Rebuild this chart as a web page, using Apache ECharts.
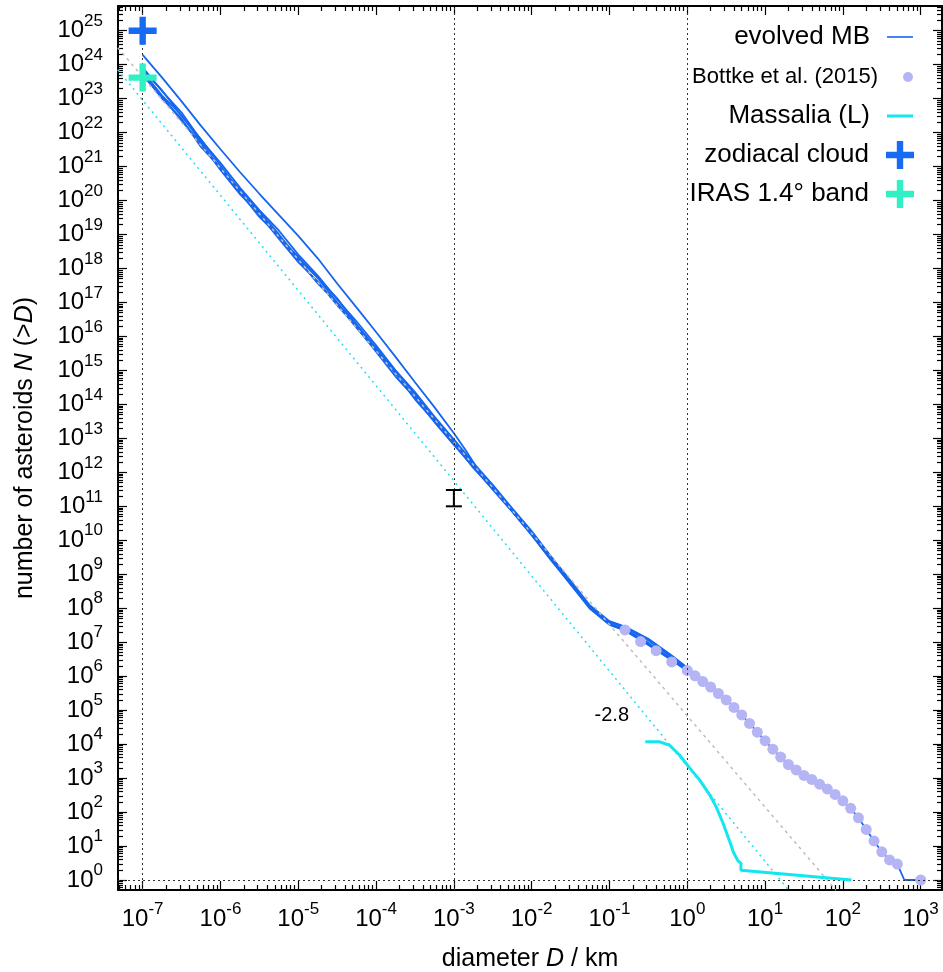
<!DOCTYPE html>
<html>
<head>
<meta charset="utf-8">
<title>Asteroid size-frequency distribution</title>
<script src="https://cdn.jsdelivr.net/npm/echarts@6.0.0/dist/echarts.min.js"></script>
<style>
  html, body { margin: 0; padding: 0; background: #fff; }
  #chart { width: 943px; height: 972px; }
</style>
</head>
<body>
<div id="chart"></div>
<script>
// every value is log10: x = log10(D / km), y = log10 N(>D)
const xTicks = [-7, -6, -5, -4, -3, -2, -1, 0, 1, 2, 3];
const yTicks = [0, 1, 2, 3, 4, 5, 6, 7, 8, 9, 10, 11, 12, 13, 14, 15, 16, 17, 18, 19, 20, 21, 22, 23, 24, 25];

// evolved main belt, several runs (bundle)
const bundleD = [-7.0, -6.75, -6.5, -6.25, -6.0, -5.75, -5.5, -5.25, -5.0, -4.75, -4.5, -4.25, -4.0, -3.75, -3.5, -3.25, -3.0, -2.75, -2.5, -2.25, -2.0, -1.75, -1.5, -1.25, -1.0, -0.8, -0.5, -0.2, 0.1, 0.4];
const mbA = [23.92, 23.22, 22.59, 21.78, 21.11, 20.38, 19.72, 19.12, 18.41, 17.79, 17.09, 16.44, 15.74, 15.00, 14.36, 13.64, 12.97, 12.28, 11.63, 10.94, 10.27, 9.52, 8.81, 8.08, 7.62, 7.46, 7.10, 6.61, 6.07, 5.54];
const mbB = [23.80, 23.09, 22.51, 21.72, 20.93, 20.33, 19.63, 18.93, 18.34, 17.72, 17.00, 16.34, 15.67, 14.91, 14.24, 13.60, 12.87, 12.23, 11.55, 10.89, 10.18, 9.47, 8.76, 8.03, 7.55, 7.38, 6.98, 6.52, 6.02, 5.52];
const mbC = [23.68, 23.06, 22.35, 21.68, 20.90, 20.19, 19.59, 18.88, 18.19, 17.62, 16.92, 16.27, 15.55, 14.82, 14.20, 13.48, 12.81, 12.16, 11.49, 10.84, 10.15, 9.41, 8.71, 7.98, 7.51, 7.35, 6.93, 6.48, 6.00, 5.51];
const mbD = [23.84, 23.24, 22.49, 21.80, 21.03, 20.28, 19.69, 19.01, 18.29, 17.73, 17.12, 16.35, 15.62, 14.99, 14.31, 13.56, 12.92, 12.24, 11.57, 10.92, 10.23, 9.49, 8.78, 8.05, 7.59, 7.43, 7.05, 6.57, 6.05, 5.53];
const mbE = [23.73, 23.00, 22.41, 21.58, 20.96, 20.24, 19.52, 18.95, 18.26, 17.56, 16.98, 16.25, 15.59, 14.92, 14.15, 13.51, 12.85, 12.13, 11.51, 10.85, 10.16, 9.44, 8.70, 8.00, 7.53, 7.34, 6.92, 6.47, 6.00, 5.51];
// one run sits above the others at small sizes
const upperD = [-7.0, -6.75, -6.5, -6.25, -6.0, -5.75, -5.5, -5.25, -5.0, -4.75, -4.5, -4.25, -4.0, -3.75, -3.5, -3.25, -3.0, -2.85, -2.7];
const upperN = [24.29, 23.62, 22.92, 22.20, 21.51, 20.84, 20.20, 19.58, 18.96, 18.30, 17.56, 16.85, 16.13, 15.40, 14.65, 13.92, 13.15, 12.66, 12.12];
// large-size tail shared by all runs
const tailD = [0.5, 0.6, 0.7, 0.8, 0.9, 1.0, 1.1, 1.2, 1.3, 1.4, 1.5, 1.6, 1.7, 1.8, 1.9, 2.0, 2.1, 2.2, 2.3, 2.4, 2.5, 2.6, 2.7, 2.79, 3.0];
const tailN = [5.30, 5.08, 4.86, 4.61, 4.35, 4.10, 3.85, 3.62, 3.40, 3.24, 3.08, 2.96, 2.82, 2.68, 2.52, 2.33, 2.11, 1.83, 1.49, 1.15, 0.83, 0.59, 0.47, 0.0, 0.0];

// Bottke et al. (2015)
const bottkeD = [-0.8, -0.6, -0.4, -0.2, 0.0, 0.1, 0.2, 0.3, 0.4, 0.5, 0.6, 0.7, 0.8, 0.9, 1.0, 1.1, 1.2, 1.3, 1.4, 1.5, 1.6, 1.7, 1.8, 1.9, 2.0, 2.1, 2.2, 2.3, 2.4, 2.5, 2.6, 2.7, 3.0];
const bottkeN = [7.36, 7.02, 6.75, 6.42, 6.17, 6.01, 5.84, 5.68, 5.49, 5.30, 5.08, 4.86, 4.61, 4.35, 4.10, 3.85, 3.62, 3.40, 3.24, 3.08, 2.96, 2.82, 2.68, 2.52, 2.33, 2.11, 1.83, 1.49, 1.15, 0.83, 0.59, 0.47, 0.0];

// Massalia family (L)
const massD = [-0.54, -0.36, -0.23, -0.10, 0.03, 0.16, 0.29, 0.37, 0.46, 0.57, 0.59, 0.65, 0.69, 0.69, 2.11];
const massN = [4.07, 4.07, 3.97, 3.68, 3.30, 2.94, 2.50, 2.16, 1.67, 0.98, 0.83, 0.57, 0.49, 0.29, 0.0];

// power laws (end points)
const slopeCyanD = [-7.32, 1.31];
const slopeCyanN = [23.85, -0.32];
const slopeGreyD = [-7.32, 1.91];
const slopeGreyN = [24.50, -0.30];
const slopeLabel = '-2.8';
const slopeLabelAt = [-0.97, 4.84];

const zodiacal = [-7, 25];
const iras = [-7, 23.62];
const errBar = [-3, 11.0, 11.48];
const refX = [-7, -3, 0];
const refY = [0];

const X_MIN = -7.317, X_MAX = 3.274, Y_MIN = -0.294, Y_MAX = 25.727;
const BLUE = '#1466f0';
const CYAN = '#12e6f0';
const FONT = '"Liberation Sans", Arial, sans-serif';

function pairs(xs, ys) { return xs.map((x, i) => [x, ys[i]]); }

function minorTicks(lo, hi) {
  const out = [];
  for (let n = Math.floor(lo) - 1; n <= Math.ceil(hi); n++) {
    for (let k = 2; k <= 9; k++) {
      const v = n + Math.log10(k);
      if (v > lo && v < hi) out.push(v);
    }
  }
  return out;
}
const xMinor = minorTicks(X_MIN, X_MAX);
const yMinor = minorTicks(Y_MIN, Y_MAX);

const powRich = {
  b: { fontSize: 24, lineHeight: 36, color: '#000', fontFamily: FONT },
  e: { fontSize: 17, lineHeight: 16, verticalAlign: 'top', color: '#000', fontFamily: FONT }
};
const powFmt = v => '{b|10}{e|' + Math.round(v) + '}';
const nameRich = {
  n: { fontSize: 25, color: '#000', fontFamily: FONT },
  i: { fontSize: 25, fontStyle: 'italic', color: '#000', fontFamily: FONT }
};

function frameAxis(position, ticks, len, withLine, min, max) {
  return {
    type: 'value', position: position, min: min, max: max,
    axisLine: { show: withLine, onZero: false, lineStyle: { color: '#000', width: 2 } },
    axisTick: { show: true, inside: true, length: len, customValues: ticks, lineStyle: { color: '#000', width: 1.2 } },
    axisLabel: { show: false },
    splitLine: { show: false }
  };
}

const xMain = frameAxis('bottom', xTicks, 9, true, X_MIN, X_MAX);
xMain.axisLabel = { show: true, customValues: xTicks, formatter: powFmt, rich: powRich, margin: 11 };
xMain.name = '{n|diameter }{i|D}{n| / km}';
xMain.nameLocation = 'middle';
xMain.nameGap = 57;
xMain.nameTextStyle = { rich: nameRich };

const yMain = frameAxis('left', yTicks, 9, true, Y_MIN, Y_MAX);
yMain.axisLabel = { show: true, customValues: yTicks, formatter: powFmt, rich: powRich, margin: 15 };
yMain.name = '{n|number of asteroids }{i|N}{n| (>}{i|D}{n|)}';
yMain.nameLocation = 'middle';
yMain.nameGap = 80;
yMain.nameTextStyle = { rich: nameRich };

const xAxes = [
  xMain,
  frameAxis('bottom', xMinor, 5, false, X_MIN, X_MAX),
  frameAxis('top', xTicks, 9, true, X_MIN, X_MAX),
  frameAxis('top', xMinor, 5, false, X_MIN, X_MAX)
];
const yAxes = [
  yMain,
  frameAxis('left', yMinor, 5, false, Y_MIN, Y_MAX),
  frameAxis('right', yTicks, 9, true, Y_MIN, Y_MAX),
  frameAxis('right', yMinor, 5, false, Y_MIN, Y_MAX)
];

function mbLine(data) {
  return {
    name: 'evolved MB', type: 'line', data: data, symbol: 'none', z: 2,
    lineStyle: { color: BLUE, width: 1.8 }, itemStyle: { color: BLUE }
  };
}

const PLUS = 'path://M-0.8,-3.5H0.8V-0.8H3.5V0.8H0.8V3.5H-0.8V0.8H-3.5V-0.8H-0.8Z';

const series = [
  mbLine(pairs(bundleD, mbA)),
  mbLine(pairs(bundleD.concat(tailD), mbB.concat(tailN))),
  mbLine(pairs(bundleD, mbC)),
  mbLine(pairs(bundleD, mbD)),
  mbLine(pairs(bundleD, mbE)),
  mbLine(pairs(upperD, upperN)),
  {
    name: 'slope grey', type: 'line', data: pairs(slopeGreyD, slopeGreyN), symbol: 'none', z: 3, silent: true,
    lineStyle: { color: '#bdbdbd', width: 1.5, type: [3, 4] },
    markLine: {
      silent: true, symbol: 'none', label: { show: false }, animation: false,
      lineStyle: { color: '#333', width: 1, type: [2, 3] },
      data: refX.map(v => ({ xAxis: v })).concat(refY.map(v => ({ yAxis: v })))
    }
  },
  {
    name: 'slope cyan', type: 'line', data: pairs(slopeCyanD, slopeCyanN), symbol: 'none', z: 3, silent: true,
    lineStyle: { color: '#22e0f0', width: 1.5, type: [2, 4] }
  },
  {
    name: 'Bottke et al. (2015)', type: 'scatter', data: pairs(bottkeD, bottkeN), symbol: 'circle', symbolSize: 11, z: 4,
    itemStyle: { color: '#b5b5f5', opacity: 1 }
  },
  {
    name: 'Massalia (L)', type: 'line', data: pairs(massD, massN), symbol: 'none', z: 5,
    lineStyle: { color: CYAN, width: 3 }, itemStyle: { color: CYAN }
  },
  {
    name: 'zodiacal cloud', type: 'scatter', data: [zodiacal], symbol: PLUS, symbolSize: 28, z: 6,
    itemStyle: { color: '#176bf2', opacity: 1 }
  },
  {
    name: 'IRAS 1.4° band', type: 'scatter', data: [iras], symbol: PLUS, symbolSize: 28, z: 6,
    itemStyle: { color: '#30f0c4', opacity: 1 }
  },
  {
    name: 'error bar', type: 'custom', data: [errBar], z: 6, silent: true,
    renderItem: function (params, api) {
      const lo = api.coord([api.value(0), api.value(1)]);
      const hi = api.coord([api.value(0), api.value(2)]);
      const w = 8;
      const st = { stroke: '#000', lineWidth: 2 };
      return {
        type: 'group', children: [
          { type: 'line', shape: { x1: lo[0], y1: lo[1], x2: hi[0], y2: hi[1] }, style: st },
          { type: 'line', shape: { x1: lo[0] - w, y1: lo[1], x2: lo[0] + w, y2: lo[1] }, style: st },
          { type: 'line', shape: { x1: hi[0] - w, y1: hi[1], x2: hi[0] + w, y2: hi[1] }, style: st }
        ]
      };
    }
  },
  {
    name: 'slope label', type: 'scatter', data: [slopeLabelAt], symbolSize: 0, z: 6, silent: true,
    itemStyle: { color: 'transparent', opacity: 1 },
    label: { show: true, position: 'inside', formatter: slopeLabel, fontSize: 20, color: '#000', fontFamily: FONT }
  }
];

function legendItem(name, icon, top, iconW, iconH, fontSize, right) {
  return {
    data: [{ name: name, icon: icon }], top: top, right: right, orient: 'vertical', align: 'right',
    padding: 0, itemWidth: iconW, itemHeight: iconH, selectedMode: false,
    textStyle: { fontSize: fontSize, color: '#000', fontFamily: FONT, padding: [0, 12, 0, 0] }
  };
}

const chart = echarts.init(document.getElementById('chart'), null, { renderer: 'canvas' });
chart.setOption({
  animation: false,
  backgroundColor: '#fff',
  textStyle: { fontFamily: FONT },
  grid: { left: 118, right: 1, top: 6, bottom: 82, containLabel: false, outerBoundsMode: 'none' },
  xAxis: xAxes,
  yAxis: yAxes,
  legend: [
    legendItem('evolved MB', 'path://M0,0H26V1.6H0Z', 24, 26, 14, 26, 30),
    legendItem('Bottke et al. (2015)', 'circle', 66, 26, 10, 22, 30),
    legendItem('Massalia (L)', 'path://M0,0H26V3H0Z', 103, 26, 14, 26, 30),
    legendItem('zodiacal cloud', PLUS, 141, 28, 28, 26, 29),
    legendItem('IRAS 1.4° band', PLUS, 180, 28, 28, 26, 29)
  ],
  series: series
});
</script>
</body>
</html>
